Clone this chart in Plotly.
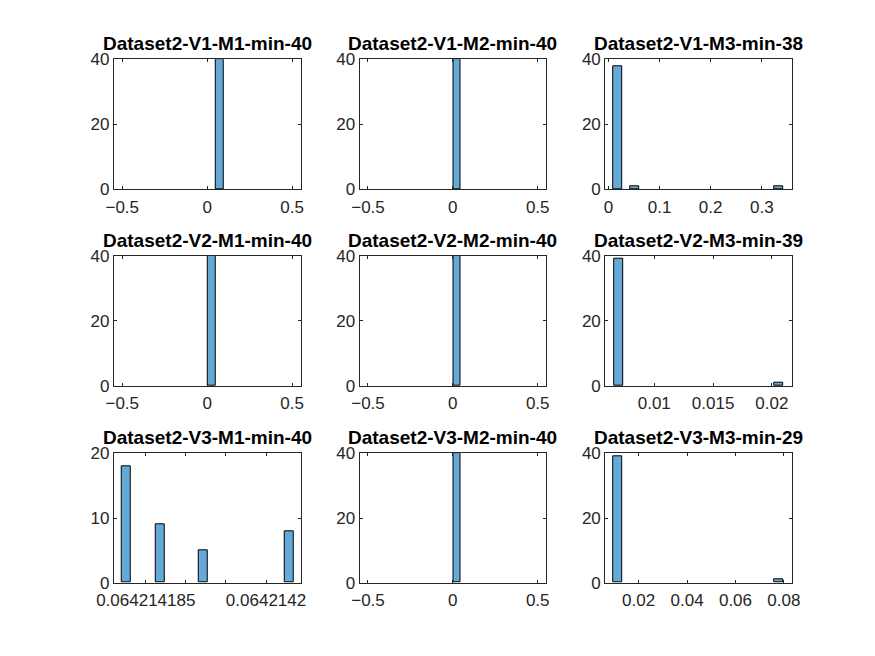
import plotly.graph_objects as go

# 3x3 grid of histograms, counts per bin (40 samples each)
titles = [
    "Dataset2-V1-M1-min-40", "Dataset2-V1-M2-min-40", "Dataset2-V1-M3-min-38",
    "Dataset2-V2-M1-min-40", "Dataset2-V2-M2-min-40", "Dataset2-V2-M3-min-39",
    "Dataset2-V3-M1-min-40", "Dataset2-V3-M2-min-40", "Dataset2-V3-M3-min-29",
]

v1_m1_bins = [0.0725]
v1_m1_counts = [40]
v1_m2_bins = [0.0235]
v1_m2_counts = [40]
v1_m3_bins = [0.0182, 0.0512, 0.3334]
v1_m3_counts = [38, 1, 1]

v2_m1_bins = [0.0265]
v2_m1_counts = [40]
v2_m2_bins = [0.0235]
v2_m2_counts = [40]
v2_m3_bins = [0.00697, 0.0206]
v2_m3_counts = [39, 1]

v3_m1_bins = [0.06421418254, 0.06421418679, 0.06421419215, 0.06421420288]
v3_m1_counts = [18, 9, 5, 8]
v3_m2_bins = [0.0235]
v3_m2_counts = [40]
v3_m3_bins = [0.0115, 0.0780]
v3_m3_counts = [39, 1]

bins = [v1_m1_bins, v1_m2_bins, v1_m3_bins,
        v2_m1_bins, v2_m2_bins, v2_m3_bins,
        v3_m1_bins, v3_m2_bins, v3_m3_bins]
counts = [v1_m1_counts, v1_m2_counts, v1_m3_counts,
          v2_m1_counts, v2_m2_counts, v2_m3_counts,
          v3_m1_counts, v3_m2_counts, v3_m3_counts]

sym_ticks = [-0.5, 0, 0.5]
sym_labels = ["\u22120.5", "0", "0.5"]
xticks = [
    (sym_ticks, sym_labels), (sym_ticks, sym_labels),
    ([0, 0.1, 0.2, 0.3], ["0", "0.1", "0.2", "0.3"]),
    (sym_ticks, sym_labels), (sym_ticks, sym_labels),
    ([0.01, 0.015, 0.02], ["0.01", "0.015", "0.02"]),
    ([0.064214185, 0.06421419, 0.064214195, 0.0642142], ["0.064214185", "", "", "0.0642142"]),
    (sym_ticks, sym_labels),
    ([0.02, 0.04, 0.06, 0.08], ["0.02", "0.04", "0.06", "0.08"]),
]

# layout / style
W, H = 875, 656
OFF = 8  # page body margin pushes the figure 8px right/down
col_px = [(113.75, 300.5), (359.5, 546.2), (605.2, 791.9)]
row_px = [(59.3, 189.3), (255.7, 386.0), (453.3, 582.7)]
sym_range = [-0.55, 0.55]
xranges = [sym_range, sym_range, [-0.0065, 0.359],
           sym_range, sym_range, [0.00583, 0.0217],
           [0.064214181, 0.0642142043], sym_range, [0.0062, 0.0833]]
yranges = [[0, 40]] * 6 + [[0, 20], [0, 40], [0, 40]]
bar_widths = [0.045, 0.045, 0.0176,
              0.045, 0.045, 0.00077,
              1.06e-9, 0.045, 0.0037]

bar_color = "#65A9D7"
axis_color = "#262626"
font_family = "Liberation Sans, Arial, sans-serif"

fig = go.Figure()
annotations = []
for i in range(9):
    r, c = divmod(i, 3)
    n = "" if i == 0 else str(i + 1)
    x0, x1 = [p - OFF for p in col_px[c]]
    top, bot = [p - OFF for p in row_px[r]]
    fig.add_trace(go.Bar(
        x=bins[i], y=counts[i], width=bar_widths[i],
        marker=dict(color=bar_color, line=dict(color="black", width=1)),
        xaxis="x" + n, yaxis="y" + n, showlegend=False,
    ))
    ymax = yranges[i][1]
    common = dict(showline=True, linecolor=axis_color, linewidth=1, mirror="ticks",
                  ticks="inside", ticklen=3, tickcolor=axis_color, showgrid=False,
                  zeroline=False, automargin=False,
                  tickfont=dict(family=font_family, size=17, color=axis_color))
    fig.update_layout(**{
        "xaxis" + n: dict(domain=[x0 / W, x1 / W], anchor="y" + n, range=xranges[i],
                          tickmode="array", tickvals=xticks[i][0], ticktext=xticks[i][1],
                          ticklabelstandoff=2, **common),
        "yaxis" + n: dict(domain=[1 - bot / H, 1 - top / H], anchor="x" + n, range=yranges[i],
                          tickmode="array", tickvals=[0, ymax / 2, ymax],
                          ticktext=["0", str(ymax // 2), str(ymax)], **common),
    })
    annotations.append(dict(text="<b>" + titles[i] + "</b>", xref="paper", yref="paper",
                            x=(x0 + x1) / 2 / W, y=1 - top / H, xanchor="center",
                            yanchor="bottom", yshift=3, showarrow=False,
                            font=dict(family=font_family, size=19, color="black")))

fig.update_layout(width=W, height=H, margin=dict(l=0, r=0, t=0, b=0),
                  paper_bgcolor="white", plot_bgcolor="white",
                  bargap=0, annotations=annotations)

fig.write_html("out.html")
